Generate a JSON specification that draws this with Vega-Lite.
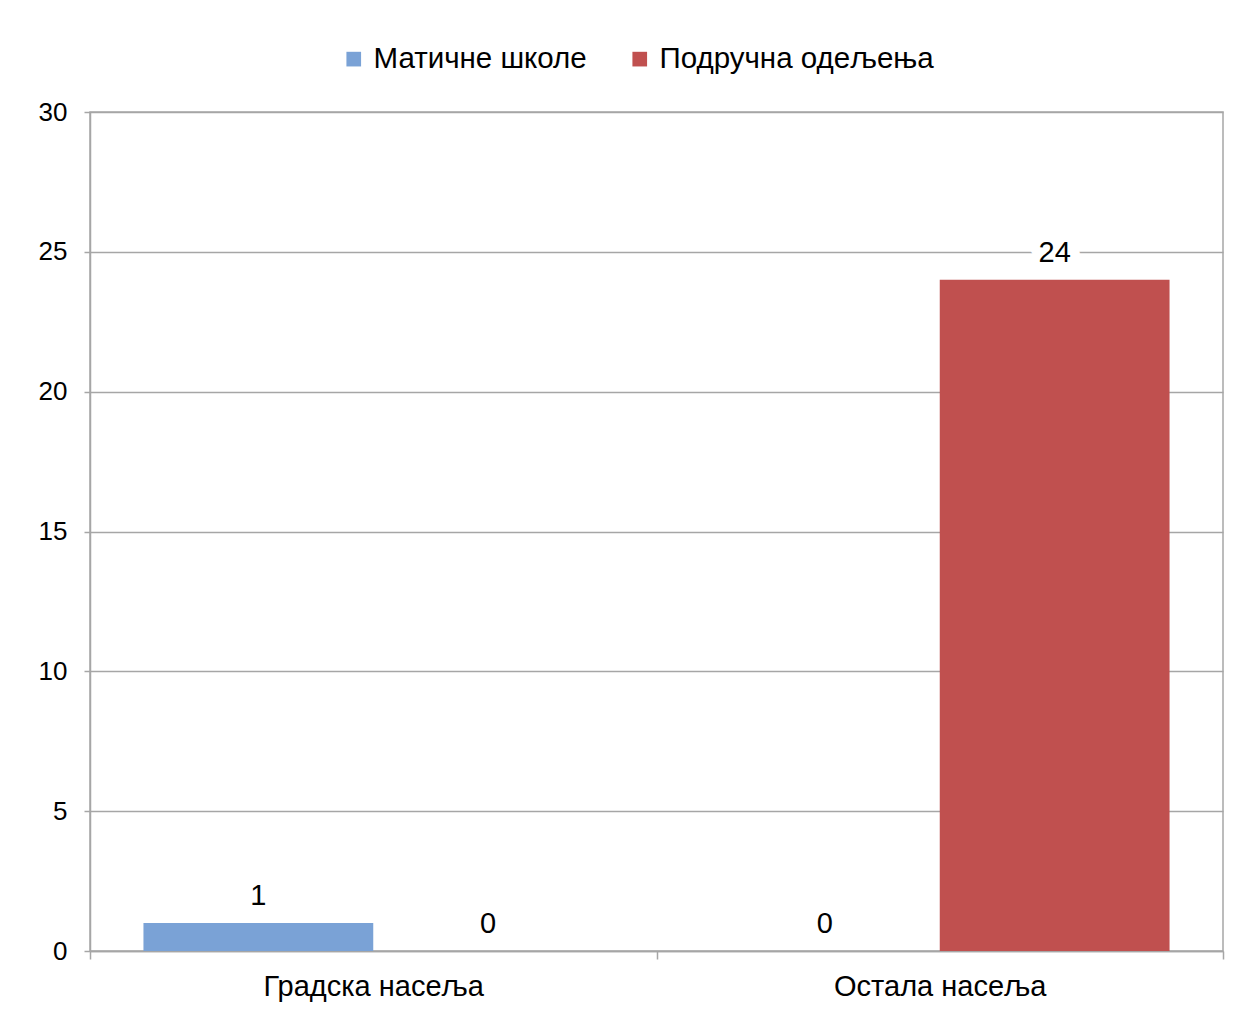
{
  "$schema": "https://vega.github.io/schema/vega-lite/v6.json",
  "autosize": {"type": "none"},
  "padding": {"left": 90, "top": 112, "right": 15, "bottom": 58},
  "width": 1133,
  "height": 839,
  "background": "white",
  "config": {
    "font": "Liberation Sans",
    "view": {"stroke": "#A6A6A6", "strokeWidth": 1.5}
  },
  "data": {
    "values": [
      {"naselje": "Градска насеља", "tip": "Матичне школе", "broj": 1},
      {"naselje": "Градска насеља", "tip": "Подручна одељења", "broj": 0},
      {"naselje": "Остала насеља", "tip": "Матичне школе", "broj": 0},
      {"naselje": "Остала насеља", "tip": "Подручна одељења", "broj": 24}
    ]
  },
  "encoding": {
    "x": {
      "field": "naselje", "type": "nominal", "sort": null,
      "scale": {"paddingInner": 0, "paddingOuter": 0},
      "axis": {
        "title": null, "labelAngle": 0, "labelFontSize": 29, "labelColor": "#000000", "labelLimit": 500,
        "domainColor": "#A6A6A6", "domainWidth": 1.5, "tickColor": "#A6A6A6", "tickWidth": 1.5,
        "tickSize": 8, "tickBand": "extent", "labelPadding": 13, "grid": false
      }
    },
    "xOffset": {
      "field": "tip", "type": "nominal",
      "scale": {"domain": ["Матичне школе", "Подручна одељења"], "paddingInner": 0, "paddingOuter": 0.2326}
    },
    "y": {
      "field": "broj", "type": "quantitative",
      "scale": {"domain": [0, 30], "nice": false},
      "axis": {
        "title": null, "values": [0, 5, 10, 15, 20, 25, 30], "labelFontSize": 26, "labelColor": "#000000",
        "domainColor": "#A6A6A6", "domainWidth": 1.5, "tickColor": "#A6A6A6", "tickWidth": 1.5,
        "tickSize": 6, "labelPadding": 17, "gridColor": "#A6A6A6", "gridWidth": 1.5
      }
    }
  },
  "layer": [
    {
      "mark": {"type": "bar"},
      "encoding": {
        "color": {
          "field": "tip", "type": "nominal",
          "scale": {"domain": ["Матичне школе", "Подручна одељења"], "range": ["#7AA2D6", "#C0504F"]},
          "legend": {
            "title": null, "orient": "none", "direction": "horizontal", "legendX": 249, "legendY": -68,
            "symbolType": "square", "symbolSize": 215, "symbolStrokeWidth": 0, "labelFontSize": 29.5,
            "labelColor": "#000000", "labelOffset": 5, "columnPadding": 38, "labelLimit": 500
          }
        }
      }
    },
    {
      "mark": {"type": "text", "baseline": "middle", "dy": -27, "fontSize": 29, "stroke": "white", "strokeWidth": 20, "strokeJoin": "round", "fill": "white"},
      "encoding": {"text": {"field": "broj", "type": "quantitative"}}
    },
    {
      "mark": {"type": "text", "baseline": "middle", "dy": -27, "fontSize": 29, "color": "#000000"},
      "encoding": {"text": {"field": "broj", "type": "quantitative"}}
    }
  ]
}
